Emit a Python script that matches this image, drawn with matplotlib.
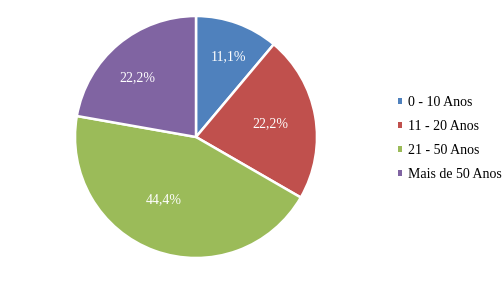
import matplotlib
matplotlib.use("Agg")
import matplotlib.pyplot as plt
from matplotlib.patches import Patch
import numpy as np

categories = ["0 - 10 Anos", "11 - 20 Anos", "21 - 50 Anos", "Mais de 50 Anos"]
values = [11.1, 22.2, 44.4, 22.2]
labels = ["11,1%", "22,2%", "44,4%", "22,2%"]
colors = ["#4F81BD", "#C0504D", "#9BBB59", "#8064A2"]
label_radius = [0.72, 0.62, 0.58, 0.69]
label_angle_shift = [-2, 0, -7, 5]

plt.rcParams['font.family'] = ['Liberation Serif', 'DejaVu Serif']

fig = plt.figure(figsize=(5.04, 2.82), dpi=100)
cx, cy, r = 196, 137, 121
W, H = 504, 282
ax = fig.add_axes([(cx - r) / W, (H - cy - r) / H, 2 * r / W, 2 * r / H])

wedges, _ = ax.pie(values, colors=colors, startangle=90, counterclock=False,
                   wedgeprops=dict(edgecolor="white", linewidth=1.8), radius=1.0)
for w, lab, lr, da in zip(wedges, labels, label_radius, label_angle_shift):
    ang = np.deg2rad((w.theta1 + w.theta2) / 2 + da)
    ax.text(lr * np.cos(ang), lr * np.sin(ang), lab, ha="center", va="center",
            color="white", fontsize=10)
ax.set_xlim(-1, 1)
ax.set_ylim(-1, 1)
ax.set_aspect("equal")
ax.axis("off")

handles = [Patch(facecolor=c, edgecolor="none") for c in colors]
fig.legend(handles, categories, loc="upper left", bbox_to_anchor=(398 / W, 1 - 96 / H),
           frameon=False, fontsize=10, handlelength=0.3, handleheight=0.3,
           handletextpad=0.45, labelspacing=0.8, borderaxespad=0, borderpad=0)

fig.savefig("out.png", dpi=100)
